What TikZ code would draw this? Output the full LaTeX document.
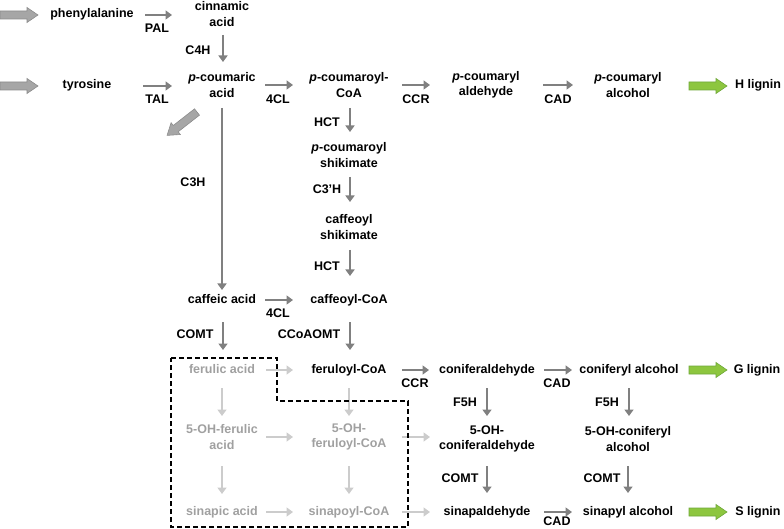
\documentclass[tikz,border=0pt]{standalone}
\usepackage{fontspec}
\setmainfont{Liberation Sans}
\usetikzlibrary{arrows.meta}
\definecolor{arrgray}{HTML}{808080}
\definecolor{lightarr}{HTML}{CCCCCC}
\definecolor{lighttxt}{HTML}{A0A0A0}
\definecolor{blockgray}{HTML}{A6A6A6}
\definecolor{blockedge}{HTML}{8C8C8C}
\definecolor{greenfill}{HTML}{8DC63F}
\definecolor{greenedge}{HTML}{6FA83A}
\tikzset{
  base/.style={font=\fontsize{12.5}{15.5}\selectfont\bfseries, inner sep=0pt},
  txt/.style={base, text height=9pt, text depth=3pt},
  txtt/.style={base, align=center},
  lbl/.style={base, text height=9pt, text depth=0pt},
  arr/.style={draw=arrgray, line width=2.6pt, -{Triangle[length=6.5pt,width=9pt]}},
  larr/.style={arr, draw=lightarr},
  boxline/.style={draw=black, line width=1.3pt, dash pattern=on 5pt off 3pt},
  blockarrow/.pic={\path[pic actions] (0,-4) -- (27,-4) -- (27,-7.5) -- (38,0) -- (27,7.5) -- (27,4) -- (0,4) -- cycle;},
  grayblock/.style={fill=blockgray, draw=blockedge, line width=0.6pt},
  greenblock/.style={fill=greenfill, draw=greenedge, line width=0.6pt}
}
\begin{document}
\begin{tikzpicture}[x=1pt, y=-1pt]
\useasboundingbox (0,0) rectangle (784,529);
% block arrows
\pic[grayblock] at (0,15) {blockarrow};
\pic[grayblock] at (0,86) {blockarrow};
\pic[grayblock, rotate=218] at (197,112) {blockarrow};
\pic[greenblock] at (689,86) {blockarrow};
\pic[greenblock] at (689,370) {blockarrow};
\pic[greenblock] at (689,512) {blockarrow};
% nodes
\node[txt] (phe) at (92,15) {phenylalanine};
\node[txtt] (cin) at (222,14) {cinnamic\\acid};
\node[txt] (tyr) at (87,86) {tyrosine};
\node[txtt] (pca) at (222,85) {\textit{p}-coumaric\\acid};
\node[txtt] (pcoa) at (349,85) {\textit{p}-coumaroyl-\\CoA};
\node[txtt] (pcald) at (486,85) {\textit{p}-coumaryl\\aldehyde};
\node[txtt] (pcalc) at (628,85) {\textit{p}-coumaryl\\alcohol};
\node[txt] (hlig) at (758,86) {H lignin};
\node[txtt] (pcs) at (349,155) {\textit{p}-coumaroyl\\shikimate};
\node[txtt] (cs) at (349,227) {caffeoyl\\shikimate};
\node[txt] (caf) at (222,300) {caffeic acid};
\node[txt] (cafcoa) at (349,300) {caffeoyl-CoA};
\node[txt, text=lighttxt] (fer) at (222,370) {ferulic acid};
\node[txt] (fercoa) at (349,370) {feruloyl-CoA};
\node[txt] (conald) at (487,370) {coniferaldehyde};
\node[txt] (conalc) at (629,370) {coniferyl alcohol};
\node[txt] (glig) at (757,370) {G lignin};
\node[txtt, text=lighttxt] (ohfa) at (222,437) {5-OH-ferulic\\acid};
\node[txtt, text=lighttxt] (ohfcoa) at (349,437) {5-OH-\\feruloyl-CoA};
\node[txtt] (ohconald) at (487,439) {5-OH-\\coniferaldehyde};
\node[txtt] (ohconalc) at (628,439) {5-OH-coniferyl\\alcohol};
\node[txt, text=lighttxt] (sina) at (222,512) {sinapic acid};
\node[txt, text=lighttxt] (sincoa) at (349,512) {sinapoyl-CoA};
\node[txt] (sinald) at (487,512) {sinapaldehyde};
\node[txt] (sinalc) at (628,512) {sinapyl alcohol};
\node[txt] (slig) at (758,512) {S lignin};
% labels
\node[lbl] (lpal) at (157,28) {PAL};
\node[lbl] (lc4h) at (198,50) {C4H};
\node[lbl] (ltal) at (157,99) {TAL};
\node[lbl] (l4cla) at (278,99) {4CL};
\node[lbl] (lccra) at (416,99) {CCR};
\node[lbl] (lcada) at (558,99) {CAD};
\node[lbl] (lhcta) at (327,122) {HCT};
\node[lbl] (lc3ph) at (327,189) {C3’H};
\node[lbl] (lhctb) at (327,266) {HCT};
\node[lbl] (lc3h) at (193,182) {C3H};
\node[lbl] (l4clb) at (278,313) {4CL};
\node[lbl] (lcomta) at (195,334) {COMT};
\node[lbl] (lccoa) at (309,334) {CCoAOMT};
\node[lbl] (lccrb) at (415,383) {CCR};
\node[lbl] (lcadb) at (557,383) {CAD};
\node[lbl] (lf5ha) at (465,402) {F5H};
\node[lbl] (lf5hb) at (607,402) {F5H};
\node[lbl] (lcomtb) at (460,478) {COMT};
\node[lbl] (lcomtc) at (602,478) {COMT};
\node[lbl] (lcadc) at (557,521) {CAD};
% connectors
\draw[arr, shorten <=53pt, shorten >=50pt] (phe.center) -- (phe.center -| cin.center);
\draw[arr, shorten <=21pt, shorten >=23pt] ([xshift=1pt]cin.center) -- ([xshift=1pt]pca.center);
\draw[arr, shorten <=56pt, shorten >=50pt] (tyr.center) -- (tyr.center -| pca.center);
\draw[arr, shorten <=43pt, shorten >=56pt] (pca.center) -- (pcoa.center);
\draw[arr, shorten <=53pt, shorten >=56pt] (pcoa.center) -- (pcald.center);
\draw[arr, shorten <=57pt, shorten >=55pt] (pcald.center) -- (pcalc.center);
\draw[arr, shorten <=23pt, shorten >=10pt] (pca.center) -- (caf.center);
\draw[arr, shorten <=23pt, shorten >=23pt] ([xshift=1pt]pcoa.center) -- ([xshift=1pt]pcs.center);
\draw[arr, shorten <=22pt, shorten >=25pt] ([xshift=1pt]pcs.center) -- ([xshift=1pt]cs.center);
\draw[arr, shorten <=23pt, shorten >=24pt] ([xshift=1pt]cs.center) -- ([xshift=1pt]cafcoa.center);
\draw[arr, shorten <=43pt, shorten >=56pt] (caf.center) -- (cafcoa.center);
\draw[arr, shorten <=22pt, shorten >=20pt] ([xshift=1pt]caf.center) -- ([xshift=1pt]fer.center);
\draw[arr, shorten <=22pt, shorten >=20pt] ([xshift=1pt]cafcoa.center) -- ([xshift=1pt]fercoa.center);
\draw[larr, shorten <=44pt, shorten >=56pt] (fer.center) -- (fercoa.center);
\draw[arr, shorten <=53pt, shorten >=58pt] (fercoa.center) -- (conald.center);
\draw[arr, shorten <=57pt, shorten >=57pt] (conald.center) -- (conalc.center);
\draw[larr, shorten <=18pt, shorten >=21pt] (fer.center) -- (ohfa.center);
\draw[larr, shorten <=18pt, shorten >=21pt] (fercoa.center) -- (ohfcoa.center);
\draw[arr, shorten <=18pt, shorten >=23pt] (conald.center) -- (ohconald.center);
\draw[arr, shorten <=18pt, shorten >=23pt] (conalc.center |- conald.center) -- (conalc.center |- ohconalc.center);
\draw[larr, shorten <=44pt, shorten >=56pt] (ohfa.center) -- (ohfa.center -| ohfcoa.center);
\draw[larr, shorten <=53pt, shorten >=57pt] (ohfcoa.center) -- (ohfcoa.center -| ohconald.center);
\draw[larr, shorten <=29pt, shorten >=18pt] (ohfa.center) -- (sina.center);
\draw[larr, shorten <=29pt, shorten >=18pt] (ohfcoa.center) -- (sincoa.center);
\draw[arr, shorten <=27pt, shorten >=19pt] (ohconald.center) -- (sinald.center);
\draw[arr, shorten <=27pt, shorten >=19pt] (ohconalc.center) -- (sinalc.center);
\draw[larr, shorten <=44pt, shorten >=56pt] (sina.center) -- (sincoa.center);
\draw[larr, shorten <=53pt, shorten >=57pt] (sincoa.center) -- (sinald.center);
\draw[arr, shorten <=57pt, shorten >=56pt] (sinald.center) -- (sinalc.center);
% dashed box
\draw[boxline] (171,358) -- (277,358) -- (277,401) -- (408,401) -- (408,527) -- (171,527) -- cycle;
\end{tikzpicture}
\end{document}
